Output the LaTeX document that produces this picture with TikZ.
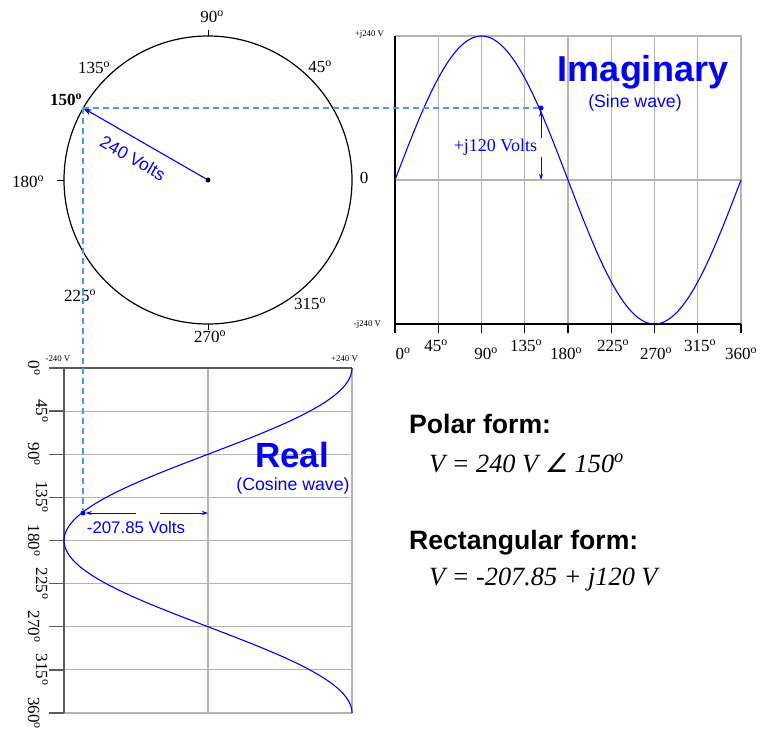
\documentclass[tikz,border=0pt]{standalone}
\usepackage{fontspec}
\setmainfont{Liberation Serif}
\setsansfont{Liberation Sans}
\newfontfamily\angfont[FakeSlant=0.2]{DejaVu Sans}
\usetikzlibrary{arrows.meta}
\definecolor{wave}{RGB}{0,0,255}
\definecolor{dashc}{RGB}{70,155,250}
\definecolor{gridc}{RGB}{180,180,180}
\definecolor{axisc}{RGB}{90,90,90}
\begin{document}
\begin{tikzpicture}[x=1pt,y=-1pt,
  deg/.style={font=\fontsize{17}{17}\selectfont, inner sep=0pt},
  degb/.style={font=\fontsize{17}{17}\selectfont\bfseries, inner sep=0pt},
  tinylbl/.style={font=\fontsize{8.8}{9}\selectfont, inner sep=0pt},
  gridln/.style={gridc, line width=1.1pt},
  axisln/.style={black, line width=1.2pt},
  axisdk/.style={axisc, line width=1.3pt},
  wavec/.style={wave, line width=1.1pt},
  proj/.style={dashc, line width=1.2pt, dash pattern=on 6pt off 4pt},
  vec/.style={wave, line width=1.1pt, -{Stealth[length=9pt,width=6pt]}},
  dimarrow/.style={wave, line width=0.9pt, -{Stealth[length=6pt,width=4pt]}},
  wdot/.style={circle, fill=wave, inner sep=0pt, minimum size=5pt},
  bigtitle/.style={font=\sffamily\bfseries\fontsize{36}{36}\selectfont, text=wave, inner sep=0pt},
  subtitle/.style={font=\sffamily\fontsize{17.7}{18}\selectfont, text=wave, inner sep=0pt},
  formhead/.style={font=\sffamily\bfseries\fontsize{26.6}{27}\selectfont, inner sep=0pt, anchor=base west},
  formula/.style={font=\itshape\fontsize{26.3}{27}\selectfont, inner sep=0pt, anchor=base west}
]
\useasboundingbox (0,0) rectangle (760,732);

% ---------------- Phasor circle ----------------
\coordinate (O) at (208,180);
\draw[black, line width=1.2pt] (O) circle[radius=144];
\draw[black, line width=1pt] (208,30) -- (208,36);
\draw[black, line width=1pt] (208,324) -- (208,330);
\draw[black, line width=1pt] (57,180) -- (64,180);
\node[deg] (l90) at (212,17) {90\textsuperscript{o}};
\node[deg] (l45) at (320,67) {45\textsuperscript{o}};
\node[deg] (l135) at (94,68) {135\textsuperscript{o}};
\node[degb] (l150) at (66,100) {150\textsuperscript{o}};
\node[deg] (l180) at (28,182) {180\textsuperscript{o}};
\node[deg] (l0) at (364,178) {0};
\node[deg] (l225) at (80,296) {225\textsuperscript{o}};
\node[deg] (l270) at (210,337) {270\textsuperscript{o}};
\node[deg] (l315) at (310,304) {315\textsuperscript{o}};

\coordinate (P) at (83,108);
\node[circle, fill=black, inner sep=0pt, minimum size=5pt] (Odot) at (O) {};
\draw[vec] (Odot) -- (P);
\node[font=\sffamily\fontsize{17.5}{18}\selectfont, text=wave, rotate=-30, inner sep=0pt] (vlbl) at (133,158) {240 Volts};

% ---------------- Sine graph ----------------
\foreach \i in {1,...,7} \draw[gridln] ({395+\i*346/8},36) -- ({395+\i*346/8},324);
\draw[gridln] (395,36) -- (741,36) -- (741,324);
\draw[gridln] (395,180) -- (741,180);
\draw[axisln] (395,36) -- (395,333);
\draw[axisln] (395,324) -- (741,324);
\foreach \i in {1,...,8} \draw[axisln] ({395+\i*346/8},324) -- ({395+\i*346/8},333);
\draw[wavec] plot[domain=0:360, samples=181, smooth] ({395+\x/360*346},{180-144*sin(\x)});
\node[tinylbl] (sj1) at (369.5,35) {+j240 V};
\node[tinylbl] (sj2) at (367.5,325) {-j240 V};
\foreach \a/\xx/\yy in {0/403/354,45/436/346,90/486/354,135/526/346,180/566/354,225/613/346,270/656/354,315/700/346,360/741/354}
  \node[deg] at (\xx,\yy) {\a\textsuperscript{o}};
\node[bigtitle, anchor=base] (imag) at (643,81) {Imaginary};
\node[subtitle] (sine) at (635,103) {(Sine wave)};

\node[wdot] (S) at (541,108) {};
\coordinate (Sbase) at (541,180);
\coordinate (Sa) at (541,138);
\coordinate (Sb) at (541,157);
\draw[dimarrow] (Sa) -- (S);
\draw[dimarrow] (Sb) -- (Sbase);
\node[font=\fontsize{18}{18}\selectfont, text=wave, inner sep=0pt] (jl) at (495.5,147) {+j120 Volts};

% ---------------- Cosine graph ----------------
\foreach \i in {1,...,8} \draw[gridln] (64,{368+\i*345/8}) -- (352,{368+\i*345/8});
\draw[gridln] (208,368) -- (208,713);
\draw[gridln] (352,368) -- (352,713);
\draw[axisdk] (49,368) -- (352,368);
\draw[axisdk] (64,368) -- (64,713);
\foreach \i in {1,...,8} \draw[axisdk] (49,{368+\i*345/8}) -- (64,{368+\i*345/8});
\draw[wavec] plot[domain=0:360, samples=181, smooth] ({208+144*cos(\x)},{368+\x/360*345});
\node[tinylbl] (cr1) at (58,359) {-240 V};
\node[tinylbl] (cr2) at (344.5,359) {+240 V};
\foreach \a/\xx in {0/34,45/42,90/34,135/42,180/34,225/42,270/34,315/42,360/34}
  \node[deg, rotate=-90] at (\xx,{368+\a/360*345}) {\a\textsuperscript{o}};
\node[bigtitle, font=\sffamily\bfseries\fontsize{35}{35}\selectfont, anchor=base] (real) at (292,467) {Real};
\node[subtitle] (cosw) at (293,486) {(Cosine wave)};

\node[wdot] (C) at (83,513) {};
\coordinate (Cmid) at (208,513);
\coordinate (Ca) at (136,513);
\coordinate (Cb) at (160,513);
\draw[dimarrow] (Ca) -- (C);
\draw[dimarrow] (Cb) -- (Cmid);
\node[font=\sffamily\fontsize{16.8}{17}\selectfont, text=wave, inner sep=0pt] (cl) at (136,527) {-207.85 Volts};

% ---------------- Projections ----------------
\draw[proj] (P) -- (S);
\draw[proj] (P) -- (C);

% ---------------- Forms ----------------
\node[formhead] (pf) at (409,433) {Polar form:};
\node[formula] (pv) at (429,472) {V = 240 V {\angfont\fontsize{26}{26}\selectfont ∠} 150\textsuperscript{o}};
\node[formhead] (rf) at (409,549) {Rectangular form:};
\node[formula] (rv) at (429,585) {V = -207.85 + j120 V};
\end{tikzpicture}
\end{document}
